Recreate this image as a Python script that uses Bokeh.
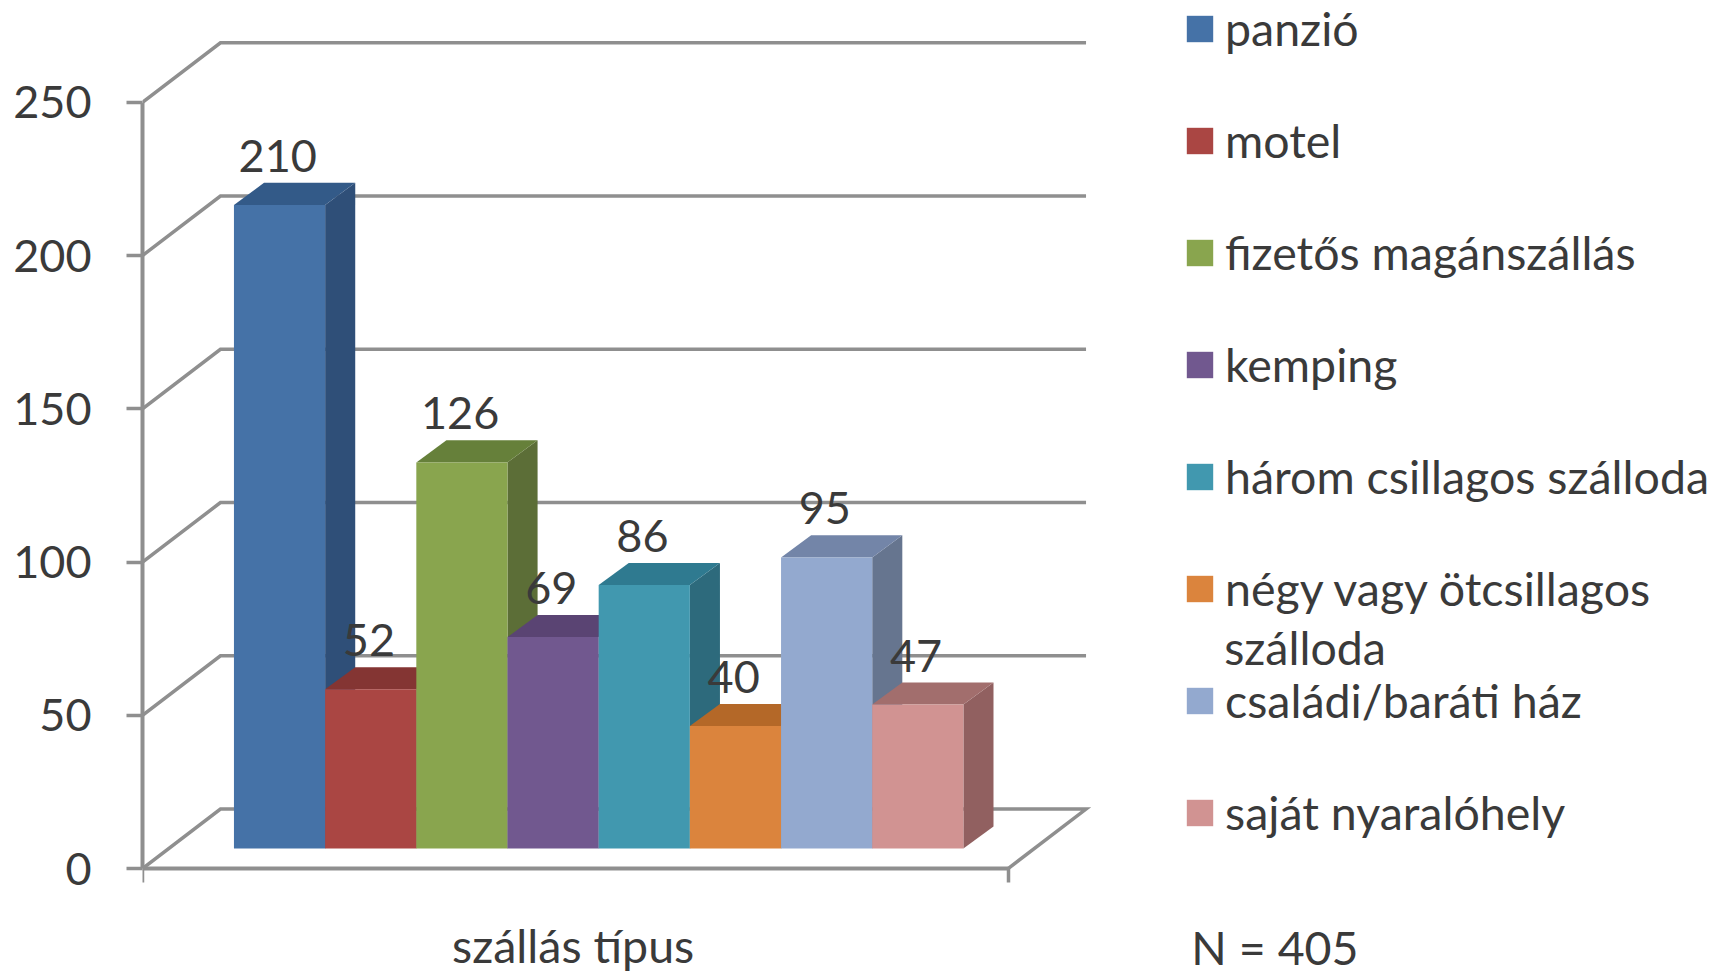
from bokeh.plotting import figure
from bokeh.models import Range1d, LinearAxis, FixedTicker, Legend, LegendItem
from bokeh.core.properties import value
from bokeh.embed import file_html
from bokeh.resources import INLINE

categories = ["panzió", "motel", "fizetős magánszállás", "kemping", "három csillagos szálloda",
              "négy vagy ötcsillagos", "családi/baráti ház", "saját nyaralóhely"]
values = [210, 52, 126, 69, 86, 40, 95, 47]
front_colors = ["#4572A7", "#AA4643", "#89A54E", "#71588F", "#4198AF", "#DB843D", "#93A9CF", "#D19392"]
side_colors = ["#2F4F78", "#7A3130", "#5C6E37", "#4F3D65", "#2D6A7C", "#9A5C2B", "#66758F", "#916060"]
top_colors = ["#335A88", "#843533", "#66803A", "#5A4473", "#2F7A90", "#B46828", "#7385A8", "#A26E6D"]
y_ticks = [0, 50, 100, 150, 200, 250]

FONT = "Lato"
TEXT = "#3a3a3a"
GRID = "#8f8f8f"
FS = "45px"
LFS = "46.5px"

# geometry in data units (1 x unit = one bar)
AXIS_X = -1.003
AXIS_X_END = 8.49
WALL_DX, WALL_DY = 0.855, 19.4
DEPTH_DX, DEPTH_DY = 0.33, 7.2
BASE = 6.5
LABEL_UP = 16.0

p = figure(width=1727, height=975, output_backend="svg", toolbar_location=None,
           x_range=Range1d(AXIS_X, 16.38), y_range=Range1d(-34.9, 283.2),
           x_axis_type=None, y_axis_type=None, min_border_left=142, min_border_right=0,
           min_border_top=0, min_border_bottom=0, outline_line_color=None)
p.grid.visible = False

# back wall and floor
for v in y_ticks:
    xs = [AXIS_X, AXIS_X + WALL_DX, AXIS_X_END + WALL_DX]
    ys = [v, v + WALL_DY, v + WALL_DY]
    if v == 0:
        xs.append(AXIS_X_END)
        ys.append(0)
    p.line(xs, ys, line_color=GRID, line_width=3.5, line_join="miter")

yaxis = LinearAxis(ticker=FixedTicker(ticks=y_ticks), bounds=(0, 250),
                   axis_line_color=GRID, axis_line_width=4,
                   major_tick_line_color=GRID, major_tick_line_width=3.5,
                   major_tick_in=0, major_tick_out=16, minor_tick_line_color=None,
                   major_label_standoff=35, major_label_text_font=FONT,
                   major_label_text_font_size=FS, major_label_text_color=TEXT)
p.add_layout(yaxis, "left")

xaxis = LinearAxis(ticker=FixedTicker(ticks=[AXIS_X, AXIS_X_END]), bounds=(AXIS_X, AXIS_X_END),
                   fixed_location=0, axis_line_color=GRID, axis_line_width=4,
                   major_tick_line_color=GRID, major_tick_line_width=3.5,
                   major_tick_in=0, major_tick_out=14, minor_tick_line_color=None,
                   major_label_text_font_size="0px",
                   major_label_overrides={AXIS_X: "", AXIS_X_END: ""})
p.add_layout(xaxis, "below")

# bars: side face, top face, then front, left to right
items = []
for i, (cat, val) in enumerate(zip(categories, values)):
    t = BASE + val
    p.patch([i + 1, i + 1 + DEPTH_DX, i + 1 + DEPTH_DX, i + 1],
            [BASE, BASE + DEPTH_DY, t + DEPTH_DY, t], fill_color=side_colors[i], line_color=None)
    p.patch([i, i + DEPTH_DX, i + 1 + DEPTH_DX, i + 1],
            [t, t + DEPTH_DY, t + DEPTH_DY, t], fill_color=top_colors[i], line_color=None)
    r = p.vbar(x=[i + 0.5], width=1, bottom=[BASE], top=[t], fill_color=front_colors[i], line_color=None)
    items.append(LegendItem(label=cat, renderers=[r]))

# data labels on top of all
p.text([i + 0.48 for i in range(len(values))], [BASE + v + LABEL_UP for v in values],
       text=[str(v) for v in values], text_align="center", text_baseline="middle",
       text_font=value(FONT), text_font_size=FS, text_color=TEXT)

legend = Legend(items=items, location=(1041, 135), orientation="vertical",
                background_fill_alpha=0, border_line_color=None, padding=0, margin=0,
                glyph_width=33, glyph_height=33, label_standoff=9, spacing=56,
                label_text_font=FONT, label_text_font_size=LFS, label_text_color=TEXT)
p.add_layout(legend, "center")

p.text([10.86], [72.2], text=["szálloda"], text_align="left", text_baseline="middle",
       text_font=value(FONT), text_font_size=LFS, text_color=TEXT)
p.text([3.72], [-25.1], text=["szállás típus"], text_align="center", text_baseline="middle",
       text_font=value(FONT), text_font_size=LFS, text_color=TEXT)
p.text([10.5], [-25.5], text=["N = 405"], text_align="left", text_baseline="middle",
       text_font=value(FONT), text_font_size=LFS, text_color=TEXT)

open("out.html", "w").write(file_html(p, INLINE))
